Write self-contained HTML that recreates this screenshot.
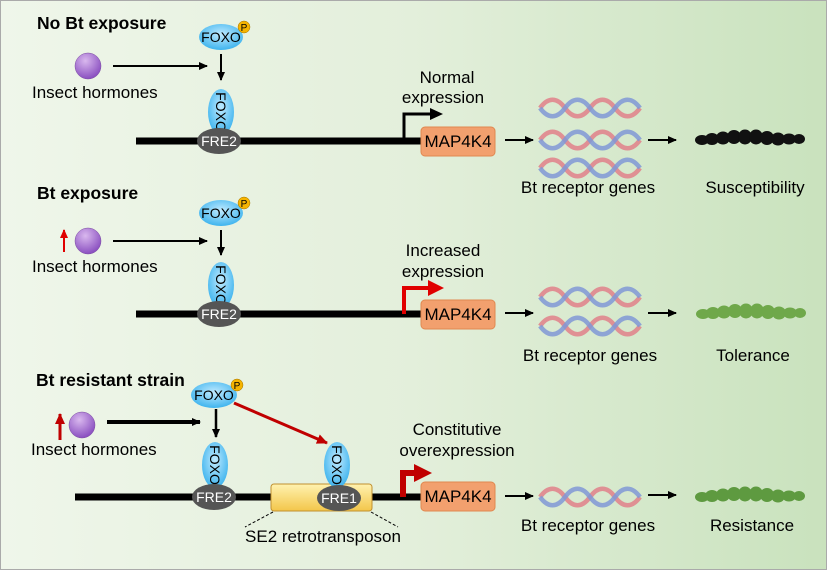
<!DOCTYPE html>
<html><head><meta charset="utf-8"><style>
html,body{margin:0;padding:0;}
svg{display:block;font-family:"Liberation Sans",Arial,sans-serif;}
</style></head><body>
<svg width="827" height="570" viewBox="0 0 827 570" xmlns="http://www.w3.org/2000/svg">
<defs>
<linearGradient id="bg" x1="0" x2="1" y1="0" y2="0">
<stop offset="0" stop-color="#eff6ea"/><stop offset="0.5" stop-color="#e3efdb"/><stop offset="1" stop-color="#c9e2bd"/></linearGradient>
<radialGradient id="blue" cx="0.5" cy="0.4" r="0.6"><stop offset="0" stop-color="#bfeaff"/><stop offset="1" stop-color="#3fb4ee"/></radialGradient>
<radialGradient id="purp" cx="0.4" cy="0.3" r="0.7"><stop offset="0" stop-color="#d9b8ee"/><stop offset="1" stop-color="#8a4fc0"/></radialGradient>
<linearGradient id="yel" x1="0" x2="0" y1="0" y2="1"><stop offset="0" stop-color="#fff2b0"/><stop offset="1" stop-color="#f3c64a"/></linearGradient>
<marker id="ak" markerWidth="10" markerHeight="10" refX="8" refY="5" orient="auto" markerUnits="userSpaceOnUse"><path d="M0,1 L9,5 L0,9 Z" fill="#000"/></marker>
<marker id="ar" markerWidth="12" markerHeight="12" refX="10" refY="6" orient="auto" markerUnits="userSpaceOnUse"><path d="M0,1 L11,6 L0,11 Z" fill="#c00000"/></marker>
<marker id="arr" markerWidth="10" markerHeight="10" refX="8" refY="5" orient="auto" markerUnits="userSpaceOnUse"><path d="M0,1 L9,5 L0,9 Z" fill="#e00000"/></marker>
<g id="helix">
<path d="M0,0 C8,-11 17,-11 25,0 S42,11 50,0 S67,-11 75,0 S92,11 100,0" fill="none" stroke="#e0808a" stroke-width="4.5" opacity="0.85"/>
<path d="M0,0 C8,11 17,11 25,0 S42,-11 50,0 S67,11 75,0 S92,-11 100,0" fill="none" stroke="#8098d6" stroke-width="4.5" opacity="0.85"/>
</g>
<g id="cat">
<ellipse cx="0" cy="0" rx="7" ry="5"/><ellipse cx="10" cy="-1" rx="7" ry="6"/><ellipse cx="21" cy="-2" rx="7" ry="6.5"/><ellipse cx="32" cy="-3" rx="7" ry="7"/><ellipse cx="43" cy="-3" rx="7" ry="7.5"/><ellipse cx="54" cy="-3" rx="7" ry="7.5"/><ellipse cx="65" cy="-2" rx="7" ry="7"/><ellipse cx="76" cy="-1" rx="7" ry="6.5"/><ellipse cx="87" cy="-1" rx="7" ry="5.5"/><ellipse cx="97" cy="-1" rx="6" ry="5"/>
</g>
</defs>
<rect x="0" y="0" width="827" height="570" fill="url(#bg)"/>
<rect x="0.5" y="0.5" width="826" height="569" fill="none" stroke="#aaa"/>

<g font-size="17" fill="#000">
<!-- Panel 1 -->
<text x="37" y="29" font-weight="bold" font-size="17.5">No Bt exposure</text>
<circle cx="88" cy="66" r="13" fill="url(#purp)" stroke="#7a4aa0" stroke-width="0.5"/>
<text x="32" y="98">Insect hormones</text>
<line x1="113" y1="66" x2="207" y2="66" stroke="#000" stroke-width="2" marker-end="url(#ak)"/>
<ellipse cx="221" cy="37" rx="22" ry="13" fill="url(#blue)"/>
<text x="221" y="42" text-anchor="middle" font-size="14">FOXO</text>
<circle cx="244" cy="27" r="6" fill="#f5b400" stroke="#a07000" stroke-width="0.5"/><text x="244" y="31" text-anchor="middle" font-size="10">P</text>
<line x1="221" y1="54" x2="221" y2="80" stroke="#000" stroke-width="2" marker-end="url(#ak)"/>
<line x1="136" y1="141" x2="421" y2="141" stroke="#000" stroke-width="7"/>
<ellipse cx="221" cy="112" rx="13" ry="23" fill="url(#blue)"/>
<text transform="translate(216,112) rotate(90)" text-anchor="middle" font-size="14">FOXO</text>
<ellipse cx="219" cy="141" rx="22" ry="13" fill="#555"/>
<text x="219" y="146" text-anchor="middle" font-size="14" fill="#fff">FRE2</text>
<path d="M404,141 V114 H432" fill="none" stroke="#000" stroke-width="3"/><path d="M430,108 L443,114 L430,120 Z" fill="#000"/>
<text x="447" y="83" text-anchor="middle">Normal</text>
<text x="443" y="103" text-anchor="middle">expression</text>
<rect x="421" y="127" width="74" height="29" rx="4" fill="#f2a06e" stroke="#e08850"/>
<text x="458" y="147" text-anchor="middle">MAP4K4</text>
<line x1="505" y1="140" x2="533" y2="140" stroke="#000" stroke-width="2" marker-end="url(#ak)"/>
<use href="#helix" x="540" y="108"/><use href="#helix" x="540" y="140"/><use href="#helix" x="540" y="168"/>
<line x1="648" y1="140" x2="676" y2="140" stroke="#000" stroke-width="2" marker-end="url(#ak)"/>
<use href="#cat" x="702" y="140" fill="#111"/>
<text x="588" y="193" text-anchor="middle">Bt receptor genes</text>
<text x="755" y="193" text-anchor="middle">Susceptibility</text>

<!-- Panel 2 -->
<text x="37" y="199" font-weight="bold" font-size="17.5">Bt exposure</text>
<line x1="64" y1="252" x2="64" y2="230" stroke="#e00000" stroke-width="2" marker-end="url(#arr)"/>
<circle cx="88" cy="241" r="13" fill="url(#purp)" stroke="#7a4aa0" stroke-width="0.5"/>
<text x="32" y="272">Insect hormones</text>
<line x1="113" y1="241" x2="207" y2="241" stroke="#000" stroke-width="2" marker-end="url(#ak)"/>
<ellipse cx="221" cy="213" rx="22" ry="13" fill="url(#blue)"/>
<text x="221" y="218" text-anchor="middle" font-size="14">FOXO</text>
<circle cx="244" cy="203" r="6" fill="#f5b400" stroke="#a07000" stroke-width="0.5"/><text x="244" y="207" text-anchor="middle" font-size="10">P</text>
<line x1="221" y1="230" x2="221" y2="255" stroke="#000" stroke-width="2" marker-end="url(#ak)"/>
<line x1="136" y1="314" x2="421" y2="314" stroke="#000" stroke-width="7"/>
<ellipse cx="221" cy="285" rx="13" ry="23" fill="url(#blue)"/>
<text transform="translate(216,285) rotate(90)" text-anchor="middle" font-size="14">FOXO</text>
<ellipse cx="219" cy="314" rx="22" ry="13" fill="#555"/>
<text x="219" y="319" text-anchor="middle" font-size="14" fill="#fff">FRE2</text>
<path d="M404,314 V288 H430" fill="none" stroke="#e00000" stroke-width="4"/><path d="M428,280 L444,288 L428,296 Z" fill="#e00000"/>
<text x="443" y="256" text-anchor="middle">Increased</text>
<text x="443" y="277" text-anchor="middle">expression</text>
<rect x="421" y="300" width="74" height="29" rx="4" fill="#f2a06e" stroke="#e08850"/>
<text x="458" y="320" text-anchor="middle">MAP4K4</text>
<line x1="505" y1="313" x2="533" y2="313" stroke="#000" stroke-width="2" marker-end="url(#ak)"/>
<use href="#helix" x="540" y="297"/><use href="#helix" x="540" y="326"/>
<line x1="648" y1="313" x2="676" y2="313" stroke="#000" stroke-width="2" marker-end="url(#ak)"/>
<use href="#cat" x="703" y="314" fill="#6fa84a"/>
<text x="590" y="361" text-anchor="middle">Bt receptor genes</text>
<text x="753" y="361" text-anchor="middle">Tolerance</text>

<!-- Panel 3 -->
<text x="36" y="386" font-weight="bold" font-size="17.5">Bt resistant strain</text>
<line x1="60" y1="440" x2="60" y2="414" stroke="#c00000" stroke-width="3" marker-end="url(#ar)"/>
<circle cx="82" cy="425" r="13" fill="url(#purp)" stroke="#7a4aa0" stroke-width="0.5"/>
<text x="31" y="455">Insect hormones</text>
<line x1="107" y1="422" x2="200" y2="422" stroke="#000" stroke-width="4" marker-end="url(#ak)"/>
<ellipse cx="214" cy="395" rx="23" ry="13" fill="url(#blue)"/>
<text x="214" y="400" text-anchor="middle" font-size="14">FOXO</text>
<circle cx="237" cy="385" r="6" fill="#f5b400" stroke="#a07000" stroke-width="0.5"/><text x="237" y="389" text-anchor="middle" font-size="10">P</text>
<line x1="216" y1="409" x2="216" y2="437" stroke="#000" stroke-width="2.5" marker-end="url(#ak)"/>
<line x1="234" y1="403" x2="327" y2="443" stroke="#c00000" stroke-width="3" marker-end="url(#ar)"/>
<line x1="75" y1="497" x2="421" y2="497" stroke="#000" stroke-width="7"/>
<ellipse cx="215" cy="465" rx="13" ry="23" fill="url(#blue)"/>
<text transform="translate(210,465) rotate(90)" text-anchor="middle" font-size="14">FOXO</text>
<ellipse cx="214" cy="497" rx="22" ry="13" fill="#555"/>
<text x="214" y="502" text-anchor="middle" font-size="14" fill="#fff">FRE2</text>
<rect x="271" y="484" width="101" height="27" rx="3" fill="url(#yel)" stroke="#c09030"/>
<ellipse cx="337" cy="465" rx="13" ry="23" fill="url(#blue)"/>
<text transform="translate(332,465) rotate(90)" text-anchor="middle" font-size="14">FOXO</text>
<ellipse cx="339" cy="498" rx="22" ry="13" fill="#555"/>
<text x="339" y="503" text-anchor="middle" font-size="14" fill="#fff">FRE1</text>
<line x1="273" y1="512" x2="245" y2="527" stroke="#000" stroke-dasharray="3,2"/>
<line x1="371" y1="512" x2="398" y2="527" stroke="#000" stroke-dasharray="3,2"/>
<text x="323" y="542" text-anchor="middle">SE2 retrotransposon</text>
<path d="M403,497 V473 H416" fill="none" stroke="#c00000" stroke-width="6"/><path d="M414,464 L432,473 L414,482 Z" fill="#c00000"/>
<text x="457" y="435" text-anchor="middle">Constitutive</text>
<text x="457" y="456" text-anchor="middle">overexpression</text>
<rect x="421" y="482" width="74" height="29" rx="4" fill="#f2a06e" stroke="#e08850"/>
<text x="458" y="502" text-anchor="middle">MAP4K4</text>
<line x1="505" y1="496" x2="533" y2="496" stroke="#000" stroke-width="2" marker-end="url(#ak)"/>
<use href="#helix" x="540" y="497"/>
<line x1="648" y1="495" x2="676" y2="495" stroke="#000" stroke-width="2" marker-end="url(#ak)"/>
<use href="#cat" x="702" y="497" fill="#5e9a40"/>
<text x="588" y="531" text-anchor="middle">Bt receptor genes</text>
<text x="752" y="531" text-anchor="middle">Resistance</text>
</g>
</svg>
</body></html>
